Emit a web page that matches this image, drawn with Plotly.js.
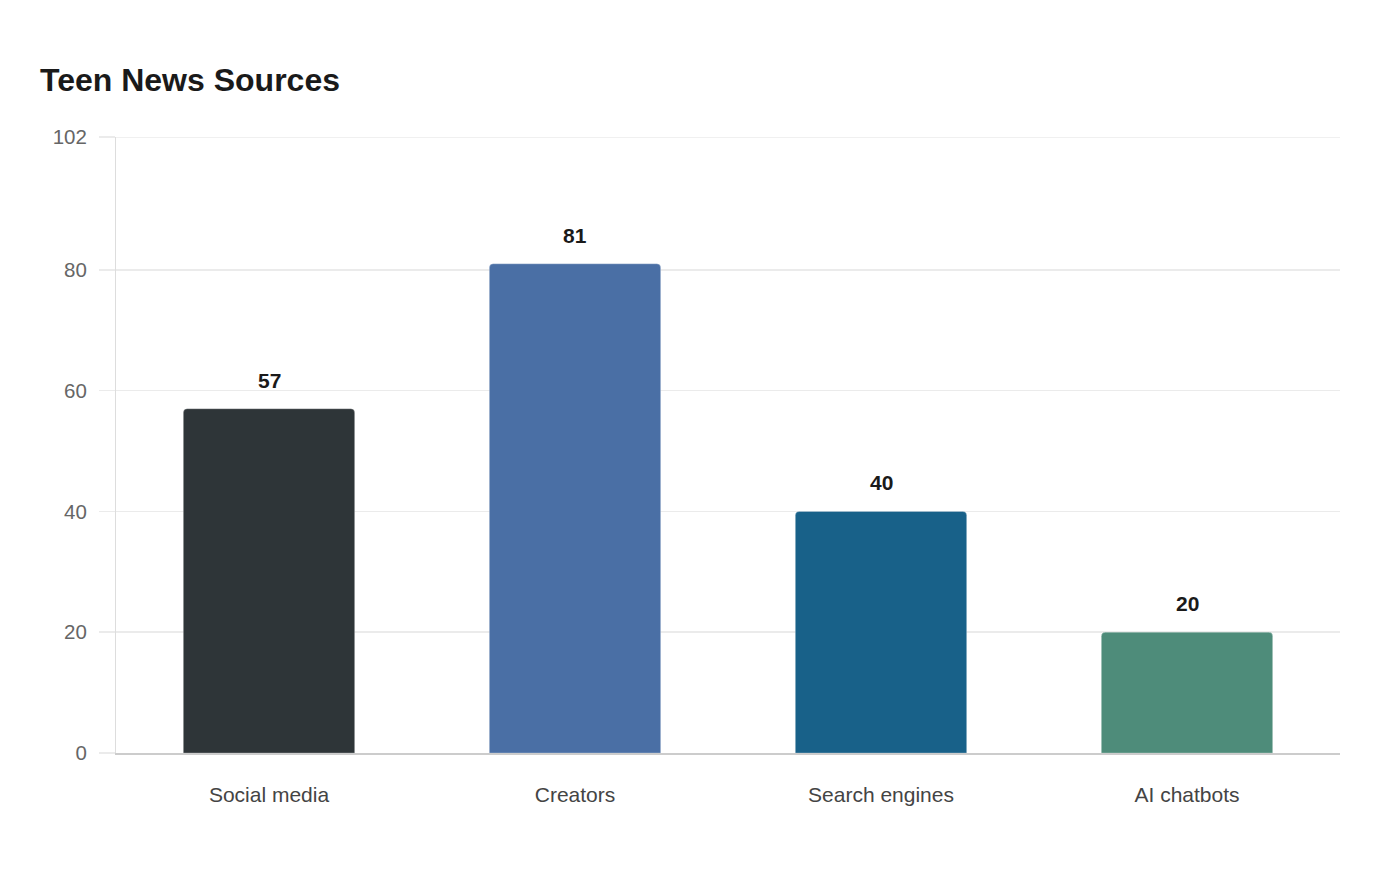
<!DOCTYPE html>
<html>
<head>
<meta charset="utf-8">
<script src="https://cdn.plot.ly/plotly-3.0.1.min.js"></script>
<style>
  html, body { margin: 0; padding: 0; background: #fff; }
  #chart { width: 1400px; height: 880px; }
</style>
</head>
<body>
<div id="chart"></div>
<script>
const categories = ['Social media', 'Creators', 'Search engines', 'AI chatbots'];
const shares = [57, 81, 40, 20];
const barColors = ['#2e3538', '#4a6fa5', '#186189', '#4e8c7a'];
const yTicks = [0, 20, 40, 60, 80, 102];

(function () {
  const FONT = 'Liberation Sans, Arial, sans-serif';
  const GRID = '#ebebeb';
  const yTop = yTicks[yTicks.length - 1];

  const trace = {
    type: 'bar',
    x: categories,
    y: shares,
    marker: {
      color: barColors,
      cornerradius: 4,
      line: { color: 'rgba(255,255,255,0.25)', width: 1 }
    },
    hoverinfo: 'x+y'
  };

  // value labels sit a bit higher than plotly's own outside text
  const labels = categories.map(function (c, i) {
    return {
      x: c,
      y: shares[i],
      text: '<b>' + shares[i] + '</b>',
      showarrow: false,
      yanchor: 'bottom',
      yshift: 15,
      font: { family: FONT, size: 21, color: '#1a1a1a' }
    };
  });

  const layout = {
    width: 1400,
    height: 880,
    paper_bgcolor: '#ffffff',
    plot_bgcolor: '#ffffff',
    margin: { l: 116, r: 60, t: 137, b: 127 },
    font: { family: FONT },
    title: {
      text: '<b>Teen News Sources</b>',
      xref: 'container',
      x: 40 / 1400,
      xanchor: 'left',
      yref: 'container',
      y: 1 - 80 / 880,
      yanchor: 'middle',
      font: { family: FONT, size: 32, color: '#1a1a1a' }
    },
    bargap: 0.44,
    showlegend: false,
    xaxis: {
      showgrid: false,
      showline: true,
      linecolor: '#cccccc',
      linewidth: 1.5,
      ticks: 'outside',
      ticklen: 22,
      tickcolor: 'rgba(0,0,0,0)',
      tickfont: { family: FONT, size: 21, color: '#444444' }
    },
    yaxis: {
      range: [0, yTop],
      tickvals: yTicks,
      ticktext: yTicks.map(String),
      showgrid: true,
      gridcolor: GRID,
      gridwidth: 1.5,
      zeroline: false,
      showline: true,
      linecolor: '#dddddd',
      linewidth: 1,
      ticks: 'outside',
      ticklen: 16,
      tickwidth: 1.5,
      tickcolor: GRID,
      ticklabelstandoff: 8,
      tickfont: { family: FONT, size: 20.5, color: '#666666' }
    },
    // plotly drops the gridline sitting on the top edge, so draw it back
    shapes: [{
      type: 'line',
      xref: 'paper', x0: 0, x1: 1,
      yref: 'y', y0: yTop, y1: yTop,
      line: { color: GRID, width: 1.5 },
      layer: 'below'
    }],
    annotations: labels
  };

  Plotly.newPlot('chart', [trace], layout, { displayModeBar: false, staticPlot: true });
})();
</script>
</body>
</html>
